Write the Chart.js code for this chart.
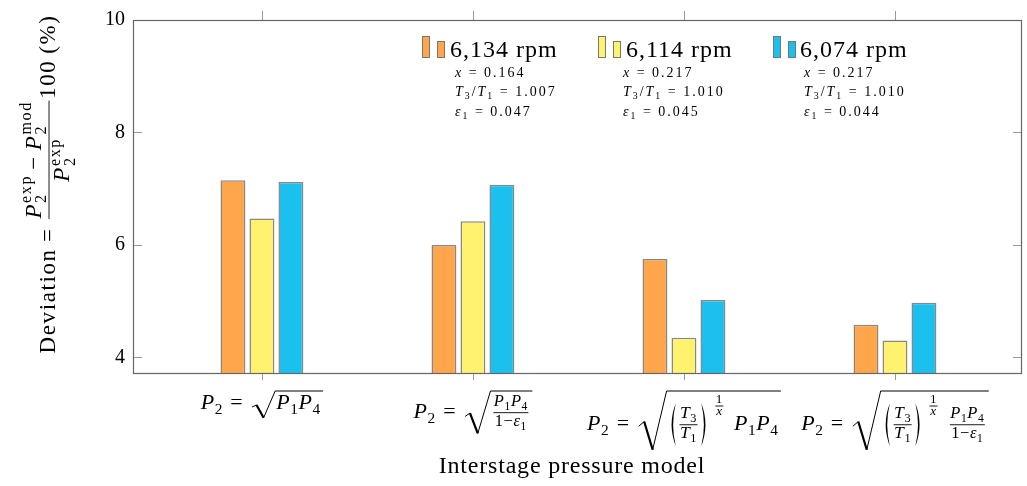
<!DOCTYPE html>
<html>
<head>
<meta charset="utf-8">
<script src="https://cdn.jsdelivr.net/npm/chart.js@4.4.1/dist/chart.umd.min.js"></script>
<style>
  html, body { margin: 0; padding: 0; background: #fff; }
  canvas { display: block; }
</style>
</head>
<body>
<canvas id="deviation-chart" width="1027" height="486"></canvas>
<script>
// interstage pressure models (drawn as formulas under the axis)
const categories = ["P2 = sqrt(P1 P4)", "P2 = sqrt(P1 P4 / (1 - e1))",
    "P2 = sqrt((T3/T1)^(1/x) P1 P4)", "P2 = sqrt((T3/T1)^(1/x) P1 P4 / (1 - e1))"];
const speeds = ["6,134 rpm", "6,114 rpm", "6,074 rpm"];
const dev6134 = [7.15, 6.00, 5.75, 4.58];
const dev6114 = [6.47, 6.42, 4.35, 4.30];
const dev6074 = [7.12, 7.07, 5.02, 4.97];
const xValues = ["0.164", "0.217", "0.217"];
const tRatios = ["1.007", "1.010", "1.010"];
const epsValues = ["0.047", "0.045", "0.044"];
const yTicks = [4, 6, 8, 10];

const fills = ["#FFA64D", "#FFF26E", "#1CC0EF"];
const SERIF = '"Liberation Serif", "DejaVu Serif", serif';

// ---- tiny math layout helpers ----
function fnt(size, it) { return (it ? "italic " : "") + size + "px " + SERIF; }
const T = (s, o) => Object.assign({ t: "txt", s }, o);
const I = (s, o) => T(s, Object.assign({ it: true }, o));
const sub = s => T(s, { sz: 0.7, dy: 0.22 });
const sp = w => ({ t: "sp", w });
const frac = (num, den, o) => Object.assign({ t: "frac", num, den, sz: 0.75 }, o);
const sqrt = body => ({ t: "sqrt", body });
const paren = body => ({ t: "paren", body });
const ss = (lo, hi) => ({ t: "ss", lo, hi });

function radicalWidth(m, S) {
  const h = m.a + m.d + S * 0.36;
  return S * 0.99 + h * 0.167;
}

function box(ctx, it, S) {
  const dy = (it.dy || 0) * S;
  let b;
  if (it.t === "txt") {
    ctx.font = fnt(S * (it.sz || 1), it.it);
    const m = ctx.measureText(it.s);
    b = { w: m.width, a: m.actualBoundingBoxAscent, d: m.actualBoundingBoxDescent };
  } else if (it.t === "sp") {
    b = { w: it.w * S, a: 0, d: 0 };
  } else if (it.t === "frac") {
    const fs = S * it.sz;
    const n = rowBox(ctx, it.num, fs), dn = rowBox(ctx, it.den, fs);
    const ax = S * 0.26, g = S * 0.12;
    b = { w: Math.max(n.w, dn.w) + S * 0.2, a: ax + g + n.d + n.a, d: g + dn.a + dn.d - ax };
  } else if (it.t === "sqrt") {
    const m = rowBox(ctx, it.body, S);
    b = { w: m.w + radicalWidth(m, S) + S * 0.1, a: m.a + S * 0.2, d: m.d + S * 0.16 };
  } else if (it.t === "paren") {
    const m = rowBox(ctx, it.body, S);
    b = { w: m.w + S * 0.9, a: m.a + S * 0.18, d: m.d + S * 0.18 };
  } else if (it.t === "ss") {
    const fs = S * 0.7;
    const lo = rowBox(ctx, it.lo, fs), hi = rowBox(ctx, it.hi, fs);
    b = { w: Math.max(lo.w, hi.w), a: S * 0.42 + hi.a, d: S * 0.24 + lo.d };
  }
  return { w: b.w, a: b.a - dy, d: b.d + dy };
}

function rowBox(ctx, items, S) {
  let w = 0, a = 0, d = 0;
  items.forEach(it => {
    const b = box(ctx, it, S);
    w += b.w; a = Math.max(a, b.a); d = Math.max(d, b.d);
  });
  return { w, a, d };
}

function drawRow(ctx, items, S, x, y) {
  items.forEach(it => {
    drawItem(ctx, it, S, x, y);
    x += box(ctx, it, S).w;
  });
}

function drawItem(ctx, it, S, x, y) {
  y += (it.dy || 0) * S;
  if (it.t === "txt") {
    ctx.font = fnt(S * (it.sz || 1), it.it);
    ctx.fillText(it.s, x, y);
  } else if (it.t === "frac") {
    const fs = S * it.sz;
    const n = rowBox(ctx, it.num, fs), dn = rowBox(ctx, it.den, fs);
    const ax = S * 0.26, g = S * 0.12;
    const w = Math.max(n.w, dn.w) + S * 0.2;
    drawRow(ctx, it.num, fs, x + (w - n.w) / 2, y - ax - g - n.d);
    drawRow(ctx, it.den, fs, x + (w - dn.w) / 2, y - ax + g + dn.a);
    ctx.beginPath();
    ctx.lineWidth = 0.9;
    ctx.moveTo(x + S * 0.08, y - ax);
    ctx.lineTo(x + w - S * 0.08, y - ax);
    ctx.stroke();
  } else if (it.t === "sqrt") {
    const m = rowBox(ctx, it.body, S);
    const rw = radicalWidth(m, S);
    const top = y - m.a - S * 0.2, bot = y + m.d + S * 0.16;
    const h = bot - top;
    ctx.lineWidth = 1;
    ctx.beginPath();
    ctx.moveTo(x + rw * 0.08, bot - h * 0.4);
    ctx.lineTo(x + rw * 0.25, bot - h * 0.48);
    ctx.stroke();
    ctx.lineWidth = 2.2;
    ctx.beginPath();
    ctx.moveTo(x + rw * 0.25, bot - h * 0.48);
    ctx.lineTo(x + rw * 0.52, bot);
    ctx.stroke();
    ctx.lineWidth = 1;
    ctx.beginPath();
    ctx.moveTo(x + rw * 0.52, bot);
    ctx.lineTo(x + rw * 0.96, top);
    ctx.lineTo(x + m.w + rw + S * 0.1, top);
    ctx.stroke();
    drawRow(ctx, it.body, S, x + rw, y);
  } else if (it.t === "paren") {
    const m = rowBox(ctx, it.body, S);
    const top = y - m.a - S * 0.18, bot = y + m.d + S * 0.18, mid = (top + bot) / 2;
    const w = m.w + S * 0.9;
    [[x + S * 0.36, -1], [x + w - S * 0.36, 1]].forEach(([px, s]) => {
      ctx.beginPath();
      ctx.moveTo(px, top);
      ctx.quadraticCurveTo(px + s * S * 0.38, mid, px, bot);
      ctx.quadraticCurveTo(px + s * S * 0.24, mid, px, top);
      ctx.fill();
    });
    drawRow(ctx, it.body, S, x + S * 0.45, y);
  } else if (it.t === "ss") {
    drawRow(ctx, it.hi, S * 0.7, x, y - S * 0.42);
    drawRow(ctx, it.lo, S * 0.7, x, y + S * 0.24);
  }
}

// ---- formulas for the category labels ----
const p2eq = [I("P"), sub("2"), sp(0.33), T("="), sp(0.3)];
const p1p4 = [I("P"), sub("1"), I("P"), sub("4")];
const oneMinusEps = [T("1"), T("\u2212"), I("\u03b5"), sub("1")];
const tempRatio = [paren([frac([I("T"), sub("3")], [I("T"), sub("1")], { sz: 0.8 })]), sp(0.2),
    frac([T("1")], [I("x")], { sz: 0.6, dy: -0.85 }), sp(0.4)];
const formulas = [
  p2eq.concat([sqrt(p1p4)]),
  p2eq.concat([sqrt([frac(p1p4, oneMinusEps)])]),
  p2eq.concat([sqrt(tempRatio.concat(p1p4))]),
  p2eq.concat([sqrt(tempRatio.concat([frac(p1p4, oneMinusEps)]))])
];

const yTitle = [T("Deviation"), sp(0.28), T("="), sp(0.28),
  frac([I("P"), ss([T("2")], [T("exp")]), sp(0.22), T("\u2212"), sp(0.22), I("P"), ss([T("2")], [T("mod")])],
       [I("P"), ss([T("2")], [T("exp")])], { sz: 1 }),
  T("100"), sp(0.25), T("(%)")];

const legendPos = [
  { icon: 422, text: 450, sub: 455 },
  { icon: 598, text: 626, sub: 623 },
  { icon: 773, text: 800, sub: 804 }
];

const decorations = {
  id: "decorations",
  afterDatasetsDraw(chart) {
    const ctx = chart.ctx;
    const a = chart.chartArea;
    const xs = chart.scales.x, ys = chart.scales.y;
    ctx.save();
    ctx.strokeStyle = "#999";
    ctx.lineWidth = 1;
    yTicks.forEach(v => {
      const py = Math.round(ys.getPixelForValue(v)) + 0.5;
      ctx.beginPath();
      ctx.moveTo(a.left, py); ctx.lineTo(a.left + 9, py);
      ctx.moveTo(a.right - 9, py); ctx.lineTo(a.right, py);
      ctx.stroke();
    });
    categories.forEach((c, i) => {
      const px = Math.round(xs.getPixelForValue(i)) + 0.5;
      ctx.beginPath();
      ctx.moveTo(px, a.top); ctx.lineTo(px, a.top - 9);
      ctx.moveTo(px, a.bottom); ctx.lineTo(px, a.bottom + 7);
      ctx.stroke();
    });
    ctx.strokeStyle = "#666";
    ctx.lineWidth = 1.2;
    ctx.strokeRect(a.left + 0.5, a.top + 0.5, a.right - a.left - 1, a.bottom - a.top);

    // category formulas
    ctx.fillStyle = "#000";
    ctx.strokeStyle = "#000";
    ctx.textAlign = "left";
    ctx.textBaseline = "alphabetic";
    ctx.letterSpacing = "0.6px";
    formulas.forEach((f, i) => {
      const S = 22;
      const b = rowBox(ctx, f, S);
      const cx = xs.getPixelForValue(i);
      drawRow(ctx, f, S, cx - b.w / 2, 391 + b.a);
    });

    // axis titles
    ctx.letterSpacing = "0.8px";
    ctx.font = fnt(24, false);
    ctx.textAlign = "center";
    ctx.fillText("Interstage pressure model", 572, 473);
    ctx.textAlign = "left";
    ctx.save();
    ctx.translate(55, 184);
    ctx.rotate(-Math.PI / 2);
    ctx.letterSpacing = "1.6px";
    const tb = rowBox(ctx, yTitle, 23);
    drawRow(ctx, yTitle, 23, -tb.w / 2, 0);
    ctx.restore();

    // legend
    speeds.forEach((s, i) => {
      const p = legendPos[i];
      ctx.fillStyle = fills[i];
      ctx.strokeStyle = "#777";
      ctx.lineWidth = 1;
      ctx.fillRect(p.icon, 36, 7, 21);
      ctx.strokeRect(p.icon + 0.5, 36.5, 7, 21);
      ctx.fillRect(p.icon + 15, 41, 7, 16);
      ctx.strokeRect(p.icon + 15.5, 41.5, 7, 16);
      ctx.fillStyle = "#000";
      ctx.letterSpacing = "1px";
      ctx.font = fnt(24, false);
      ctx.fillText(s, p.text, 57);
      ctx.letterSpacing = "2px";
      drawRow(ctx, [I("x"), T(" = " + xValues[i])], 14, p.sub, 77);
      drawRow(ctx, [I("T"), sub("3"), T("/"), I("T"), sub("1"), T(" = " + tRatios[i])], 14, p.sub, 96);
      drawRow(ctx, [I("\u03b5"), sub("1"), T(" = " + epsValues[i])], 14, p.sub, 116);
    });
    ctx.letterSpacing = "0px";
    ctx.restore();
  }
};

const series = [dev6134, dev6114, dev6074];
const chartData = {
  datasets: speeds.map((s, i) => ({
    label: s,
    data: series[i].map((v, j) => ({ x: j, y: v })),
    backgroundColor: fills[i],
    borderColor: "#888",
    borderWidth: 1.5,
    categoryPercentage: 0.412,
    barPercentage: 0.86
  }))
};

const chartOptions = {
  responsive: false,
  animation: false,
  layout: { padding: { left: 0, right: 5, top: 19, bottom: 0 } },
  plugins: { legend: { display: false }, tooltip: { enabled: false } },
  scales: {
    x: {
      type: "linear",
      offset: false,
      min: -0.611,
      max: 3.602,
      afterBuildTicks: s => { s.ticks = categories.map((c, i) => ({ value: i })); },
      ticks: { display: false },
      grid: { display: false, drawTicks: false, offset: false },
      border: { display: false },
      afterFit: s => { s.height = 113; }
    },
    y: {
      min: 3.723,
      max: 10,
      afterBuildTicks: s => { s.ticks = yTicks.map(v => ({ value: v })); },
      ticks: { font: { family: SERIF, size: 20 }, color: "#000", padding: 8 },
      grid: { display: false, drawTicks: false },
      border: { display: false },
      afterFit: s => { s.width = 133; }
    }
  }
};

new Chart(document.getElementById("deviation-chart"), {
  type: "bar",
  data: chartData,
  options: chartOptions,
  plugins: [decorations]
});
</script>
</body>
</html>
